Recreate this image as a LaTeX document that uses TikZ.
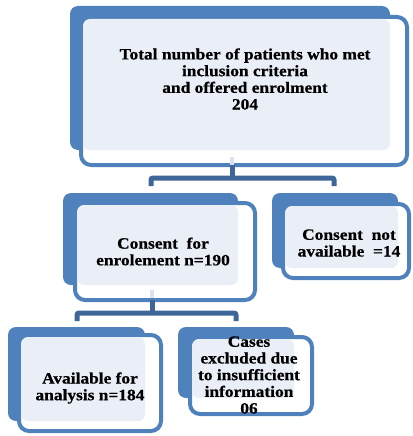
\documentclass[tikz,border=0pt]{standalone}
\usepackage{fontspec}
\setmainfont{Liberation Serif}[FakeStretch=1.1, BoldFeatures={FakeBold=0.6}]
\definecolor{boxblue}{HTML}{4F81BD}
\definecolor{linkblue}{HTML}{3F6699}
\definecolor{paleblue}{HTML}{EAEFF7}
\definecolor{stubgray}{HTML}{DCE3EE}
\begin{document}
\begin{tikzpicture}[x=1pt,y=-1pt,
  backbox/.style={fill=boxblue, rounded corners=8pt},
  framebox/.style={draw=boxblue, line width=4pt, fill=white, rounded corners=10pt,
                   inner sep=0pt, outer sep=0pt},
  innerfill/.style={fill=paleblue, rounded corners=7pt},
  stub/.style={fill=stubgray},
  link/.style={draw=linkblue, line width=5pt, rounded corners=2pt},
  label/.style={font=\bfseries\fontsize{15.8}{16.7}\selectfont, align=center, inner sep=0pt}]
\useasboundingbox (0,0) rectangle (412,436);

% --- top box: all eligible patients
\fill[backbox] (70,6) rectangle (390,150);
\node[framebox, minimum width=326pt, minimum height=148pt] (fTop) at (244,91) {};
\fill[innerfill] (83,19) rectangle (390,150);
\fill[stub] (230,157) rectangle (234,165);
\node[label] (tTop) at (245,79) {Total number of patients who met\\inclusion criteria\\and offered enrolment\\204};

% --- consent given
\fill[backbox] (63,193) rectangle (238,285);
\node[framebox, minimum width=180pt, minimum height=97pt] (fCons) at (165,251.5) {};
\fill[innerfill] (77,205) rectangle (238,285);
\fill[stub] (150,290) rectangle (154,298);
\node[label] (tCons) at (163,251.5) {Consent\ \ for\\enrolement n=190};

% --- consent not available
\fill[backbox] (272,193) rectangle (398,268);
\node[framebox, minimum width=126pt, minimum height=74pt] (fNo) at (346,241) {};
\fill[innerfill] (285,206) rectangle (398,268);
\node[label] (tNo) at (349,243) {Consent\ \ not\\available\ \ =14};

% --- available for analysis
\fill[backbox] (8,327) rectangle (145,421);
\node[framebox, minimum width=142pt, minimum height=96pt] (fAna) at (90,383) {};
\fill[innerfill] (21,337) rectangle (145,421);
\node[label] (tAna) at (90,388) {Available for\\analysis n=184};

% --- excluded cases
\fill[backbox] (178,327) rectangle (294,398);
\node[framebox, minimum width=122pt, minimum height=77pt] (fExc) at (251,375.5) {};
\fill[innerfill] (192,339) rectangle (294,398);
\node[label] (tExc) at (249,375) {Cases\\excluded due\\to insufficient\\information\\06};

% --- connector from the top box to the second row
\coordinate (aOut) at (fTop.south -| 232,0);
\coordinate (aHub) at (232,178);
\coordinate (aL) at (151,186);
\coordinate (aR) at (334,186);
\draw[link] (aOut) -- (aHub);
\draw[link] (aL) |- (aHub) -| (aR);

% --- connector from the consent box to the third row
\coordinate (bOut) at (fCons.south -| 152,0);
\coordinate (bHub) at (152,313);
\coordinate (bL) at (77,321);
\coordinate (bR) at (236,321);
\draw[link] (bOut) -- (bHub);
\draw[link] (bL) |- (bHub) -| (bR);
\end{tikzpicture}
\end{document}
